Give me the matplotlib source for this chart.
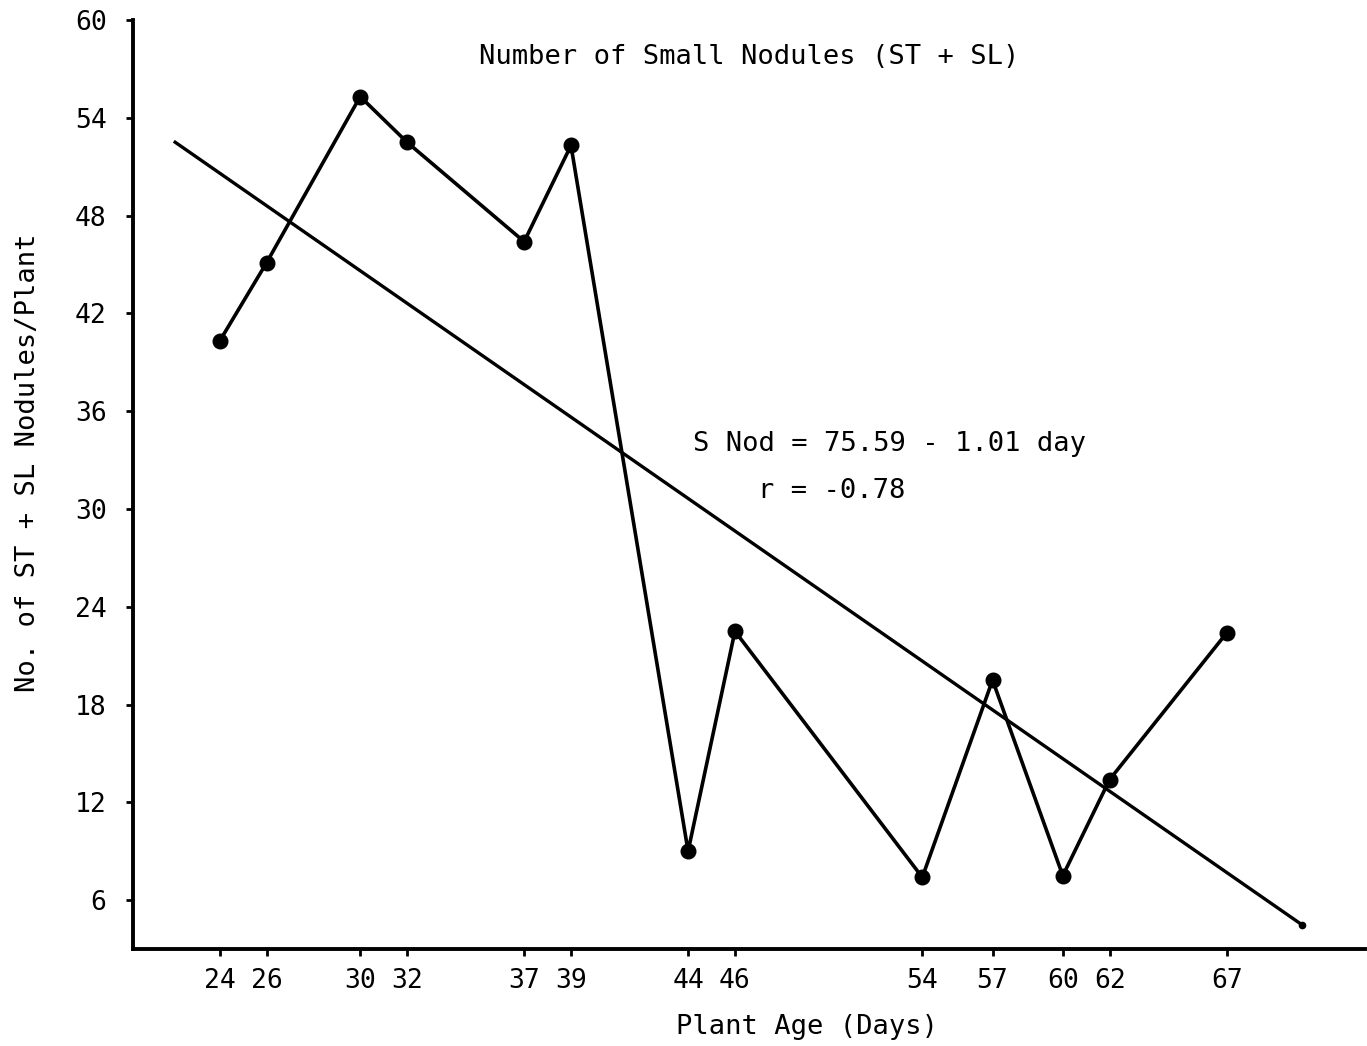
import matplotlib
matplotlib.use("Agg")
import matplotlib.pyplot as plt

days = [24, 26, 30, 32, 37, 39, 44, 46, 54, 57, 60, 62, 67]
nodules = [40.3, 45.1, 55.3, 52.5, 46.4, 52.3, 9.0, 22.5, 7.4, 19.5, 7.5, 13.4, 22.4]
fit_days = [22.1, 70.2]
fit_vals = [52.5, 4.5]
yticks = [6, 12, 18, 24, 30, 36, 42, 48, 54, 60]

plt.rcParams['font.family'] = ['DejaVu Sans Mono']

fig = plt.figure(figsize=(13.67, 10.46), dpi=100)
ax = fig.add_axes([0.0973, 0.0927, 0.9012, 0.8882])

ax.plot(days, nodules, color='black', lw=2.6, marker='o', ms=10.5, zorder=3)
ax.plot(fit_days, fit_vals, color='black', lw=2.4, zorder=2)
ax.plot(fit_days[-1:], fit_vals[-1:], 'o', color='black', ms=4.5)

ax.set_xlim(20.3, 72.9)
ax.set_ylim(3, 60)
ax.set_xticks(days)
ax.set_yticks(yticks)
ax.tick_params(axis='both', labelsize=19, length=5, width=2, direction='out')
ax.tick_params(axis='x', pad=9)
ax.tick_params(axis='y', pad=14)

for s in ['top', 'right']:
    ax.spines[s].set_visible(False)
for s in ['left', 'bottom']:
    ax.spines[s].set_linewidth(2.8)

ax.text(46.6, 57.7, 'Number of Small Nodules (ST + SL)', ha='center', va='center', fontsize=19.5)
ax.text(44.2, 34.0, 'S Nod = 75.59 - 1.01 day', ha='left', va='center', fontsize=19.5)
ax.text(47.0, 31.1, 'r = -0.78', ha='left', va='center', fontsize=19.5)

ax.set_xlabel('Plant Age (Days)', fontsize=19.5)
ax.set_ylabel('No. of ST + SL Nodules/Plant', fontsize=19.5)
ax.xaxis.set_label_coords((807 - 133) / 1232, -(1027 - 949) / 929)
ax.yaxis.set_label_coords(-(133 - 28) / 1232, (949 - 463) / 929)
ax.xaxis.label.set_va('center')
ax.yaxis.label.set_va('center')

fig.savefig('out.png', dpi=100)
